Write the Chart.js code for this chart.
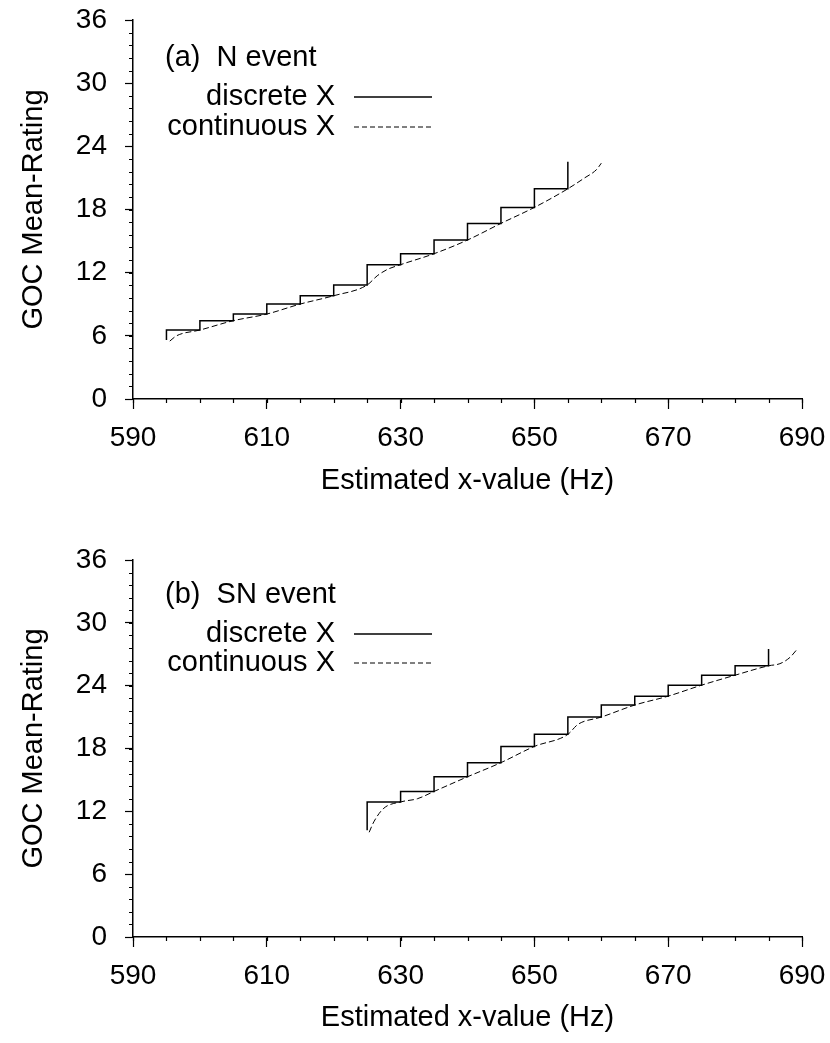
<!DOCTYPE html>
<html>
<head>
<meta charset="utf-8">
<title>GOC Mean-Rating</title>
<script src="https://cdn.jsdelivr.net/npm/chart.js@4.4.1/dist/chart.umd.min.js"></script>
<style>
  body { margin: 0; background: #fff; }
  canvas { display: block; }
</style>
</head>
<body>
<canvas id="chartA" width="830" height="520"></canvas>
<canvas id="chartB" width="830" height="523"></canvas>
<script>
// axis ticks
var xTicks = [590, 610, 630, 650, 670, 690];
var yTicks = [0, 6, 12, 18, 24, 30, 36];

// (a) N event
var discreteHzA = [595, 595, 600, 605, 610, 615, 620, 625, 630, 635, 640, 645, 650, 655];
var discreteA = [5.6, 6.55, 7.44, 8.07, 9.02, 9.81, 10.83, 12.76, 13.8, 15.1, 16.68, 18.2, 19.97, 22.54];
var continuousHzA = [595.5, 596.5, 600, 605, 610, 615, 620, 625, 626.5, 628, 630, 635, 640, 645, 650, 655, 657.5, 659.3, 660];
var continuousA = [5.5, 6.0, 6.55, 7.44, 8.07, 9.02, 9.81, 10.83, 11.7, 12.3, 12.76, 13.8, 15.1, 16.68, 18.2, 19.97, 21.0, 21.8, 22.4];

// (b) SN event
var discreteHzB = [625, 625, 630, 635, 640, 645, 650, 655, 660, 665, 670, 675, 680, 685];
var discreteB = [10.2, 12.9, 13.9, 15.3, 16.65, 18.2, 19.35, 21.0, 22.15, 23.0, 24.05, 25.0, 25.9, 27.5];
var continuousHzB = [625.3, 626, 627.5, 630, 632.5, 635, 640, 645, 650, 655, 656.5, 660, 665, 670, 675, 680, 685, 686.7, 688.2, 689.3];
var continuousB = [10.0, 11.0, 12.3, 12.9, 13.2, 13.9, 15.3, 16.65, 18.2, 19.35, 20.3, 21.0, 22.15, 23.0, 24.05, 25.0, 25.9, 26.1, 26.7, 27.5];

var seriesNames = ["discrete X", "continuous X"];

Chart.defaults.font.family = "'Liberation Sans', Arial, sans-serif";
Chart.defaults.font.size = 28;
Chart.defaults.color = "#000";

function toPoints(xs, ys) {
  return xs.map(function (x, i) {
    return { x: x, y: ys[i] };
  });
}

// short ticks between the labelled ones
var minorTicks = {
  id: "minorTicks",
  afterDraw: function (chart) {
    var ctx = chart.ctx;
    var sx = chart.scales.x;
    var sy = chart.scales.y;
    ctx.save();
    ctx.strokeStyle = "#000";
    ctx.lineWidth = 1.2;
    ctx.beginPath();
    for (var i = 0; i <= 20; i++) {
      var px = Math.round(sx.getPixelForValue(590 + i * 5)) + 0.5;
      ctx.moveTo(px, sx.top);
      ctx.lineTo(px, sx.top + 4);
    }
    for (var j = 0; j <= 30; j++) {
      var py = Math.round(sy.getPixelForValue(j * 1.2)) + 0.5;
      ctx.moveTo(sx.left, py);
      ctx.lineTo(sx.left - 4, py);
    }
    ctx.stroke();
    ctx.restore();
  },
};

// panel label + legend drawn inside the plot
var panelLegend = {
  id: "panelLegend",
  afterDraw: function (chart, args, opts) {
    var ctx = chart.ctx;
    var a = chart.chartArea;
    ctx.save();
    ctx.fillStyle = "#000";
    ctx.font = "29px 'Liberation Sans', Arial, sans-serif";
    ctx.textBaseline = "middle";
    ctx.textAlign = "left";
    ctx.fillText(opts.label, 165, a.top + opts.rows[0]);
    ctx.textAlign = "right";
    ctx.strokeStyle = "#000";
    for (var i = 0; i < 2; i++) {
      var yy = a.top + opts.rows[i + 1];
      ctx.fillText(seriesNames[i], 335, yy);
      ctx.beginPath();
      ctx.lineWidth = i == 0 ? 1.5 : 1;
      ctx.setLineDash(i == 0 ? [] : [5, 3]);
      ctx.moveTo(354, yy);
      ctx.lineTo(432, yy);
      ctx.stroke();
    }
    ctx.restore();
  },
};

function makeChart(id, label, discHz, disc, contHz, cont, axisH, titlePad, rows) {
  var ctx = document.getElementById(id).getContext("2d");
  return new Chart(ctx, {
    type: "scatter",
    data: {
      datasets: [
        {
          label: seriesNames[0],
          data: toPoints(discHz, disc),
          showLine: true,
          stepped: "before",
          borderColor: "#000",
          borderWidth: 1.5,
          pointRadius: 0,
        },
        {
          label: seriesNames[1],
          data: toPoints(contHz, cont),
          showLine: true,
          cubicInterpolationMode: "monotone",
          borderColor: "#000",
          borderWidth: 1,
          borderDash: [6, 3],
          pointRadius: 0,
        },
      ],
    },
    options: {
      responsive: false,
      animation: false,
      layout: { padding: { top: rows.top, right: 28, left: 0, bottom: 0 } },
      plugins: {
        legend: { display: false },
        tooltip: { enabled: false },
        panelLegend: { label: label, rows: rows.y },
      },
      scales: {
        x: {
          type: "linear",
          min: xTicks[0],
          max: xTicks[xTicks.length - 1],
          afterBuildTicks: function (scale) {
            scale.ticks = xTicks.map(function (v) { return { value: v }; });
          },
          afterFit: function (scale) {
            scale.height = axisH;
            scale.paddingLeft = 0;
            scale.paddingRight = 0;
          },
          grid: {
            drawOnChartArea: false,
            tickLength: 10,
            tickColor: "#000",
            tickWidth: 1.2,
          },
          border: { color: "#000", width: 1.5 },
          ticks: { padding: 12, maxRotation: 0, font: { size: 28 } },
          title: {
            display: true,
            text: "Estimated x-value (Hz)",
            font: { size: 29 },
            padding: { top: 0, bottom: titlePad },
          },
        },
        y: {
          type: "linear",
          min: yTicks[0],
          max: yTicks[yTicks.length - 1],
          afterBuildTicks: function (scale) {
            scale.ticks = yTicks.map(function (v) { return { value: v }; });
          },
          afterFit: function (scale) {
            scale.width = 133;
            scale.paddingTop = 0;
            scale.paddingBottom = 0;
          },
          grid: {
            drawOnChartArea: false,
            tickLength: 8,
            tickColor: "#000",
            tickWidth: 1.2,
          },
          border: { color: "#000", width: 1.5 },
          ticks: { padding: 18, font: { size: 28 } },
          title: {
            display: true,
            text: "GOC Mean-Rating",
            font: { size: 29 },
            padding: { top: 17, bottom: 0 },
          },
        },
      },
    },
    plugins: [minorTicks, panelLegend],
  });
}

makeChart("chartA", "(a)  N event", discreteHzA, discreteA, continuousHzA, continuousA,
  121, 22, { top: 20, y: [38, 77, 107] });
makeChart("chartB", "(b)  SN event", discreteHzB, discreteB, continuousHzB, continuousB,
  106, 8, { top: 40, y: [35, 74, 103] });
</script>
</body>
</html>
